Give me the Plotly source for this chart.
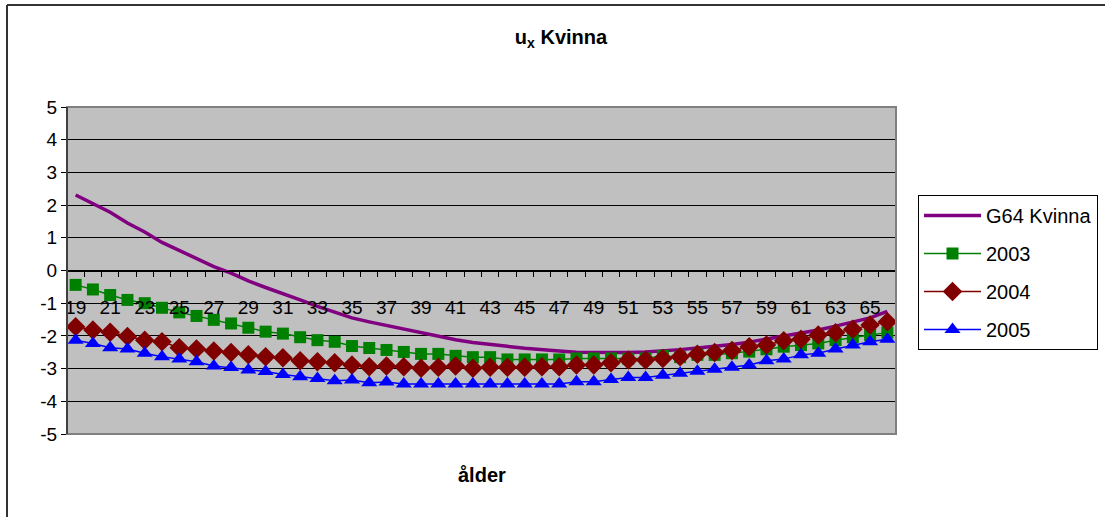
import plotly.graph_objects as go

ages = list(range(19, 67))

g64_kvinna = [2.31, 2.05, 1.78, 1.45, 1.18, 0.86, 0.62, 0.38, 0.12, -0.08,
              -0.32, -0.52, -0.70, -0.90, -1.10, -1.28, -1.45, -1.57, -1.68, -1.80,
              -1.92, -2.03, -2.12, -2.20, -2.27, -2.32, -2.38, -2.43, -2.46, -2.50,
              -2.51, -2.51, -2.51, -2.49, -2.46, -2.42, -2.37, -2.32, -2.26, -2.19,
              -2.10, -2.02, -1.92, -1.82, -1.70, -1.58, -1.45, -1.25]

y2003 = [-0.44, -0.58, -0.75, -0.90, -1.00, -1.14, -1.28, -1.39, -1.51, -1.62,
         -1.75, -1.87, -1.93, -2.04, -2.13, -2.18, -2.31, -2.37, -2.43, -2.49,
         -2.55, -2.55, -2.61, -2.65, -2.65, -2.72, -2.72, -2.72, -2.72, -2.69,
         -2.69, -2.69, -2.70, -2.69, -2.61, -2.65, -2.58, -2.58, -2.53, -2.48,
         -2.41, -2.33, -2.28, -2.23, -2.13, -2.04, -1.97, -1.90]

y2004 = [-1.72, -1.82, -1.89, -2.02, -2.13, -2.18, -2.36, -2.40, -2.46, -2.51,
         -2.58, -2.64, -2.67, -2.76, -2.79, -2.82, -2.89, -2.94, -2.92, -2.94,
         -2.99, -2.96, -2.92, -2.99, -2.96, -2.96, -2.96, -2.94, -2.94, -2.89,
         -2.89, -2.82, -2.74, -2.74, -2.69, -2.64, -2.56, -2.51, -2.45, -2.33,
         -2.28, -2.15, -2.10, -1.97, -1.90, -1.80, -1.67, -1.57]

y2005 = [-2.13, -2.23, -2.36, -2.40, -2.53, -2.64, -2.71, -2.79, -2.92, -2.97,
         -3.04, -3.09, -3.18, -3.25, -3.30, -3.37, -3.35, -3.43, -3.41, -3.47,
         -3.47, -3.47, -3.47, -3.47, -3.47, -3.47, -3.47, -3.47, -3.47, -3.40,
         -3.40, -3.33, -3.27, -3.27, -3.20, -3.14, -3.08, -3.02, -2.96, -2.89,
         -2.76, -2.71, -2.58, -2.53, -2.40, -2.28, -2.18, -2.10]

label_ages = ages[::2]  # 19, 21, ..., 65
y_ticks = list(range(-5, 6))
y_ticktext = [str(v) for v in y_ticks]  # plain hyphen minus, as in the original

W, H = 1105, 517
L, R, T, B = 67, 896, 107, 434
PW, PH = R - L, B - T


def px_x(p):
    return (p - L) / PW


def px_y(p):
    return (B - p) / PH


FONT = "Liberation Sans, Arial, sans-serif"

fig = go.Figure()
fig.add_trace(go.Scatter(x=ages, y=g64_kvinna, mode="lines", name="G64 Kvinna",
                         line=dict(color="#800080", width=3.5), legendgroup="a"))
fig.add_trace(go.Scatter(x=ages, y=y2003, mode="lines+markers", name="2003",
                         line=dict(color="#008000", width=1.5),
                         marker=dict(symbol="square", size=12, color="#008000"),
                         legendgroup="b"))
fig.add_trace(go.Scatter(x=ages, y=y2004, mode="lines+markers", name="2004",
                         line=dict(color="#800000", width=1.5),
                         marker=dict(symbol="diamond", size=15, color="#800000"),
                         legendgroup="c"))
fig.add_trace(go.Scatter(x=ages, y=y2005, mode="lines+markers", name="2005",
                         line=dict(color="#0000FF", width=1.5),
                         marker=dict(symbol="triangle-up", size=14, color="#0000FF"),
                         legendgroup="d"))

half_ticks = [a - 0.5 for a in ages] + [ages[-1] + 0.5]

fig.update_layout(
    width=W, height=H,
    margin=dict(l=L, r=W - R, t=T, b=H - B, autoexpand=False),
    paper_bgcolor="white",
    plot_bgcolor="#C0C0C0",
    font=dict(family=FONT, size=19, color="black"),
    title=dict(text="<b>u<sub>x</sub> Kvinna</b>", x=561 / W, xanchor="center",
               y=1 - 37 / H, yanchor="middle", xref="container", yref="container",
               font=dict(family=FONT, size=20, color="black")),
    xaxis=dict(
        range=[ages[0] - 0.5, ages[-1] + 0.5],
        tickmode="array", tickvals=label_ages, ticktext=[str(a) for a in label_ages],
        ticks="", showgrid=False, zeroline=False,
        showline=True, linecolor="black", linewidth=1,
        anchor="free", position=0.5,
        ticklabelstandoff=20,
        minor=dict(tickmode="array", tickvals=half_ticks, ticks="outside",
                   ticklen=5, tickcolor="black", tickwidth=1, showgrid=False),
        tickfont=dict(size=19),
    ),
    yaxis=dict(
        range=[-5, 5], tickmode="array", tickvals=y_ticks, ticktext=y_ticktext,
        ticks="outside", ticklen=5, tickcolor="black",
        showgrid=True, gridcolor="black", gridwidth=1,
        zeroline=False, showline=True, linecolor="black", linewidth=1,
        tickfont=dict(size=19),
    ),
    showlegend=True,
    legend=dict(
        x=px_x(918), y=px_y(195), xanchor="left", yanchor="top",
        bgcolor="white", bordercolor="black", borderwidth=1,
        font=dict(family=FONT, size=20, color="black"),
        itemwidth=57, tracegroupgap=9, traceorder="grouped",
    ),
    annotations=[dict(text="<b>ålder</b>", x=0.5, y=px_y(475), xref="paper",
                      yref="paper", xanchor="center", yanchor="middle",
                      showarrow=False, font=dict(family=FONT, size=20, color="black"))],
    shapes=[
        dict(type="rect", xref="paper", yref="paper", x0=0, y0=0, x1=1, y1=1,
             line=dict(color="#808080", width=2), layer="above"),
        dict(type="line", xref="paper", yref="paper", x0=0, y0=0, x1=0, y1=1,
             line=dict(color="black", width=1), layer="above"),
        dict(type="line", xref="paper", yref="paper", x0=px_x(7), y0=px_y(5),
             x1=px_x(7), y1=px_y(H + 5), line=dict(color="#333333", width=2)),
        dict(type="line", xref="paper", yref="paper", x0=px_x(7), y0=px_y(5),
             x1=px_x(W + 5), y1=px_y(5), line=dict(color="#333333", width=2)),
    ],
)

fig.write_html("out.html")
